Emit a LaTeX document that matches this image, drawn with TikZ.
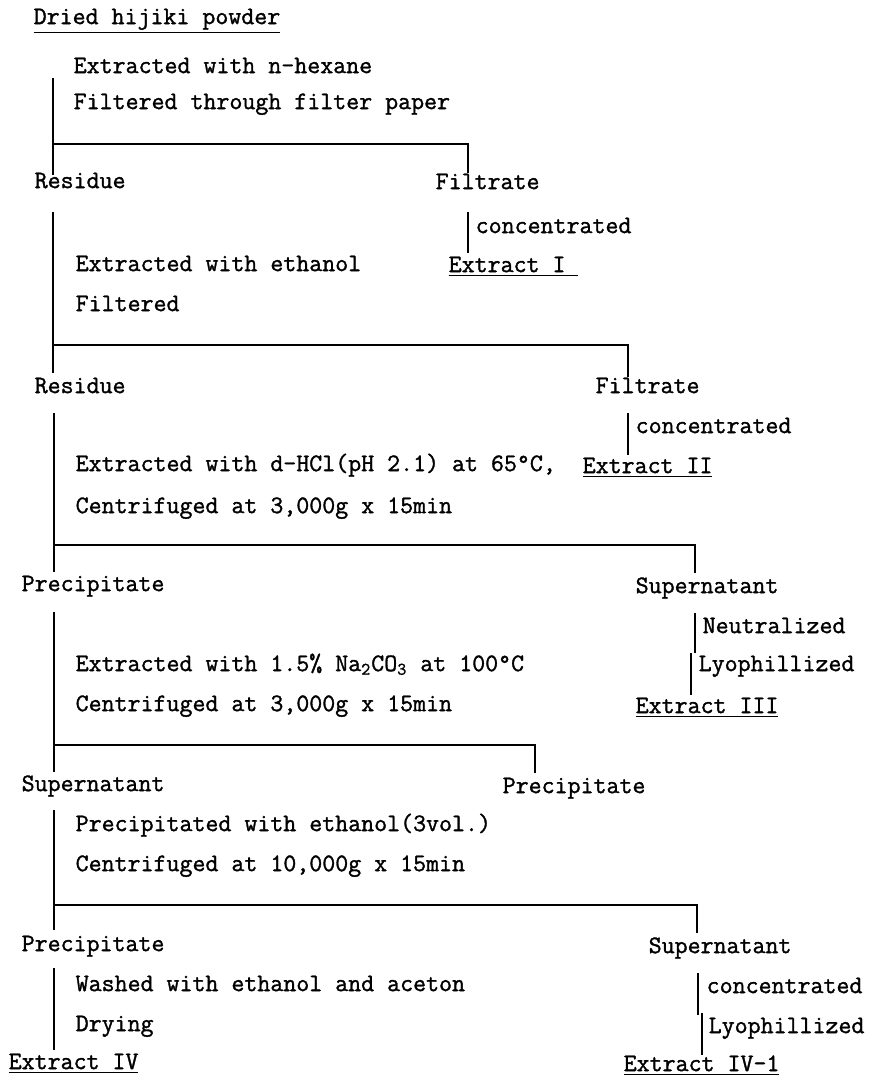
\documentclass[tikz,border=0pt]{standalone}
\usepackage{fontspec}
\usepackage{tikz}
\newfontfamily\flowfont{lmmono12-regular}[Extension=.otf,FakeBold=1.3]

\begin{document}
\begin{tikzpicture}[x=0.5pt,y=-0.5pt,line width=0.7pt]
\tikzstyle{fraction}=[anchor=west,inner sep=0pt,text height=0.61em,text depth=0pt,font=\flowfont\fontsize{12.6}{14}\selectfont]
\tikzstyle{treat}=[fraction]
\useasboundingbox (0,0) rectangle (874,1080);
%\fill[white] (0,0) rectangle (874,1080);
\node[fraction] (powder) at (33,18) {\underline{Dried hijiki powder}};
\node[treat] (hexane) at (73,67) {Extracted with n-hexane};
\node[treat] (paper) at (73,103) {Filtered through filter paper};
\node[fraction] (residue1) at (34,182) {Residue};
\node[fraction] (filtrate1) at (435,183) {Filtrate};
\node[treat] (conc1) at (475,227) {concentrated};
\node[fraction] (extI) at (448,266) {\underline{Extract I\ }};
\node[treat] (ethanol) at (75,265) {Extracted with ethanol};
\node[treat] (filtered) at (75,305) {Filtered};
\node[fraction] (residue2) at (34,387) {Residue};
\node[fraction] (filtrate2) at (595,387) {Filtrate};
\node[treat] (conc2) at (635,427) {concentrated};
\node[treat] (hcl) at (75,465) {Extracted with d-HCl(pH 2.1) at 65\textdegree C,};
\node[fraction] (extII) at (582,467) {\underline{Extract II}};
\node[treat] (cent1) at (75,507) {Centrifuged at 3,000g x 15min};
\node[fraction] (precip1) at (21,585) {Precipitate};
\node[fraction] (super1) at (635,587) {Supernatant};
\node[treat] (neutral) at (702,627) {Neutralized};
\node[treat] (lyo1) at (698,665) {Lyophillized};
\node[treat] (soda) at (75,665) {Extracted with 1.5\% Na\textsubscript{2}CO\textsubscript{3} at 100\textdegree C};
\node[treat] (cent2) at (75,705) {Centrifuged at 3,000g x 15min};
\node[fraction] (extIII) at (635,707) {\underline{Extract III}};
\node[fraction] (super2) at (21,785) {Supernatant};
\node[fraction] (precip2) at (502,787) {Precipitate};
\node[treat] (etoh) at (75,825) {Precipitated with ethanol(3vol.)};
\node[treat] (cent3) at (75,865) {Centrifuged at 10,000g x 15min};
\node[fraction] (precip3) at (21,945) {Precipitate};
\node[fraction] (super3) at (648,947) {Supernatant};
\node[treat] (washed) at (75,985) {Washed with ethanol and aceton};
\node[treat] (conc3) at (706,987) {concentrated};
\node[treat] (drying) at (75,1025) {Drying};
\node[treat] (lyo2) at (708,1027) {Lyophillized};
\node[fraction] (extIV) at (8,1063) {\underline{Extract IV}};
\node[fraction] (extIVa) at (623,1065) {\underline{Extract IV-1}};
\coordinate (s1) at (53,78);  \coordinate (e1) at (53,175);
\coordinate (j1) at (53,144); \coordinate (f1) at (468,173);
\coordinate (c1a) at (468,212); \coordinate (c1b) at (468,253);
\coordinate (s2) at (53,212); \coordinate (e2) at (53,373);
\coordinate (j2) at (53,345); \coordinate (f2) at (628,377);
\coordinate (c2a) at (628,413); \coordinate (c2b) at (628,455);
\coordinate (s3) at (54,413); \coordinate (e3) at (54,572);
\coordinate (j3) at (54,545); \coordinate (f3) at (695,573);
\coordinate (c3a) at (695,613); \coordinate (c3b) at (695,653);
\coordinate (c3c) at (691,653); \coordinate (c3d) at (691,695);
\coordinate (s4) at (54,612); \coordinate (e4) at (54,772);
\coordinate (j4) at (54,745); \coordinate (f4) at (535,773);
\coordinate (s5) at (54,810); \coordinate (e5) at (54,930);
\coordinate (j5) at (54,905); \coordinate (f5) at (697,933);
\coordinate (c5a) at (698,973); \coordinate (c5b) at (698,1015);
\coordinate (c5c) at (702,1013); \coordinate (c5d) at (702,1055);
\coordinate (s6) at (54,968); \coordinate (e6) at (54,1050);
\draw (s1) -- (e1);
\draw (j1) -| (f1);
\draw (c1a) -- (c1b);
\draw (s2) -- (e2);
\draw (j2) -| (f2);
\draw (c2a) -- (c2b);
\draw (s3) -- (e3);
\draw (j3) -| (f3);
\draw (c3a) -- (c3b);
\draw (c3c) -- (c3d);
\draw (s4) -- (e4);
\draw (j4) -| (f4);
\draw (s5) -- (e5);
\draw (j5) -| (f5);
\draw (c5a) -- (c5b);
\draw (c5c) -- (c5d);
\draw (s6) -- (e6);
\end{tikzpicture}
\end{document}
